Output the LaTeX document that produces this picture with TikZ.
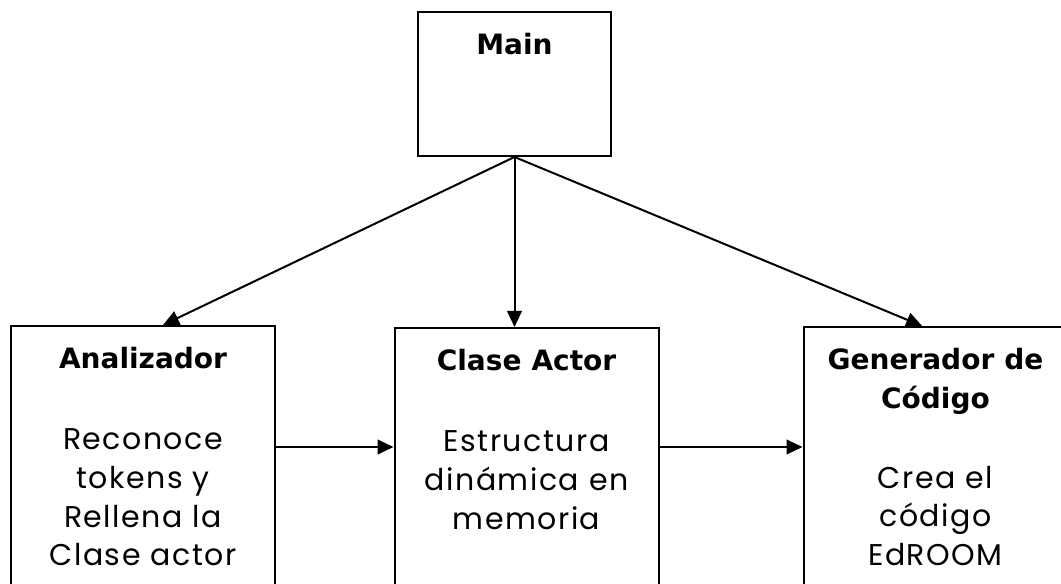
\documentclass[tikz,border=0pt]{standalone}
\usepackage{fontspec}
\newfontfamily\headfont{DejaVu Sans}
\newfontfamily\bodyfont{Poppins}[LetterSpace=5]
\usetikzlibrary{arrows.meta}
\newcommand\headtxt[1]{{\headfont\bfseries\fontsize{21}{29}\selectfont #1}}

\begin{document}
\begin{tikzpicture}[x=0.75pt,y=-0.75pt,>={Triangle[length=12pt,width=11pt]},line width=1.5pt,
 box/.style={draw,minimum width=198pt,minimum height=225pt,anchor=north,inner sep=0pt},
 txt/.style={anchor=north,inner sep=0pt,text width=195pt,align=center,
   font=\bodyfont\fontsize{22.5}{29}\selectfont}]
 \clip (0,0) rectangle (1061,584);

 % the four boxes
 \node[box,minimum width=144.75pt,minimum height=108pt] (main) at (514.5,11) {};
 \node[box] (ana) at (143,325) {};
 \node[box] (clase) at (526.5,327) {};
 \node[box] (gen) at (935.5,326) {};

 % titles and descriptions
 \node[txt] (mainT) at ([yshift=-16pt]main.north) {\headtxt{Main}};
 \node[txt] (anaT) at ([yshift=-16pt]ana.north) {\headtxt{Analizador}\\[32pt]
   Reconoce\\ tokens y\\ Rellena la\\ Clase actor};
 \node[txt] (claseT) at ([yshift=-16pt]clase.north) {\headtxt{Clase Actor}\\[32pt]
   Estructura\\ dinámica en\\ memoria};
 \node[txt] (genT) at ([yshift=-16pt]gen.north) {\headtxt{Generador de}\\
   \headtxt{Código}\\[31pt]
   Crea el\\ código\\ EdROOM};

 % connections
 \draw[->] (main.south) -- ([xshift=15pt]ana.north);
 \draw[->] (main.south) -- (main.south |- clase.north);
 \draw[->] (main.south) -- ([xshift=-10pt]gen.north);
 \draw[->] ([yshift=-91.5pt]ana.north east) -- ([yshift=-91.5pt]ana.north east -| clase.west);
 \draw[->] ([yshift=-90pt]clase.north east) -- ([yshift=-90pt]clase.north east -| gen.west);
\end{tikzpicture}
\end{document}
